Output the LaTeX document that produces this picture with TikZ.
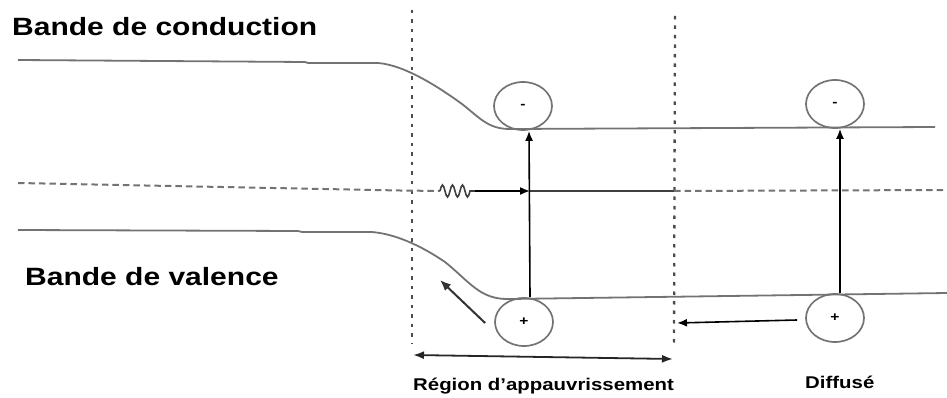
\documentclass[tikz,border=0pt]{standalone}
\usepackage{fontspec}
\setmainfont{Liberation Sans}[FakeStretch=1.2]
\usetikzlibrary{arrows.meta,shapes.geometric,calc}
\begin{document}
\begin{tikzpicture}[x=1pt,y=-1pt,
  band/.style={draw=black!55, line width=1.8pt},
  fermi/.style={draw=black!55, line width=2pt, dash pattern=on 6.5pt off 4pt},
  border/.style={draw=black!70, line width=2.3pt, dash pattern=on 3.5pt off 6pt},
  arr/.style={draw=black, line width=1.6pt, -{Latex[length=10pt,width=8pt]}},
  darr/.style={draw=black!80, line width=2pt, -{Latex[length=11pt,width=9pt]}},
  biarr/.style={draw=black!85, line width=1.8pt, {Latex[length=11pt,width=8pt]}-{Latex[length=11pt,width=8pt]}},
  carrier/.style={ellipse, draw=black!55, line width=1.7pt, minimum width=58pt, minimum height=48pt, inner sep=0pt, font=\bfseries\fontsize{13}{13}\selectfont},
  title/.style={font=\bfseries\fontsize{25}{30}\selectfont, anchor=base west, inner sep=0pt},
  lab/.style={font=\bfseries\fontsize{17}{20}\selectfont, anchor=base west, inner sep=0pt}]
\path[use as bounding box] (0,0) rectangle (947,398);

% titles
\node[title] (tc) at (12,36) {Bande de conduction};
\node[title] (tv) at (25,285) {Bande de valence};

% depletion region borders
\coordinate (d1t) at (412,10);
\coordinate (d1b) at (412,343);
\coordinate (d2t) at (675,16);
\coordinate (d2b) at (674,345);
\draw[border] (d1t) -- (d1b);
\draw[border] (d2t) -- (d2b);

% conduction band
\draw[band] (18,60) -- (305,62) -- (308,63) -- (378,63)
  .. controls (405,65) and (440,88) .. (462,104)
  .. controls (480,118) and (488,129) .. (510,129) -- (935,127);
% valence band
\draw[band] (18,230) -- (298,231) -- (302,232) -- (372,232)
  .. controls (395,234) and (420,245) .. (445,262)
  .. controls (470,282) and (480,300) .. (510,299) -- (947,293);

% carriers
\node[carrier] (e1) at (523,106) {-};
\node[carrier] (e2) at (835,104) {-};
\node[carrier] (h1) at (524,322) {+};
\node[carrier] (h2) at (835,318) {+};

% Fermi level
\coordinate (w0) at (440,191);
\coordinate (w1) at (475,191);
\coordinate (f1) at (530,191);
\coordinate (f2) at (674,191);
\draw[fermi] (18,183) -- (400,190.5) -- (w0);
\draw[black!75, line width=1.6pt] (w0) sin (442.5,185) cos (445,191) sin (447.5,197) cos (450,191)
  sin (452.5,185) cos (455,191) sin (457.5,197) cos (460,191)
  sin (462.5,185) cos (465,191) sin (467.5,197) cos (470,191) -- (w1);
\draw[arr] (w1) -- (f1);
\draw[black!75, line width=1.6pt] (f1) -- (f2);
\draw[fermi] (f2) -- (947,190);

% excitation arrows
\draw[arr] ([xshift=6pt]h1.north) -- ([xshift=6pt]e1.south);
\draw[arr] ([xshift=5pt]h2.north) -- ([xshift=5pt]e2.south);

% hole drift arrows
\coordinate (dg) at (440,280);
\draw[darr] ($(h1.west)+(-9,1)$) -- (dg);
\coordinate (d2m) at (677,323);
\draw[arr] ($(h2.west)+(-8,2)$) -- (d2m);

% depletion width
\coordinate (r1) at (413,355);
\coordinate (r2) at (673,359);
\draw[biarr] (r1) -- (r2);

% labels
\node[lab] (lr) at (413,390) {Région d’appauvrissement};
\node[lab] (ld) at (805,388) {Diffusé};
\end{tikzpicture}
\end{document}
